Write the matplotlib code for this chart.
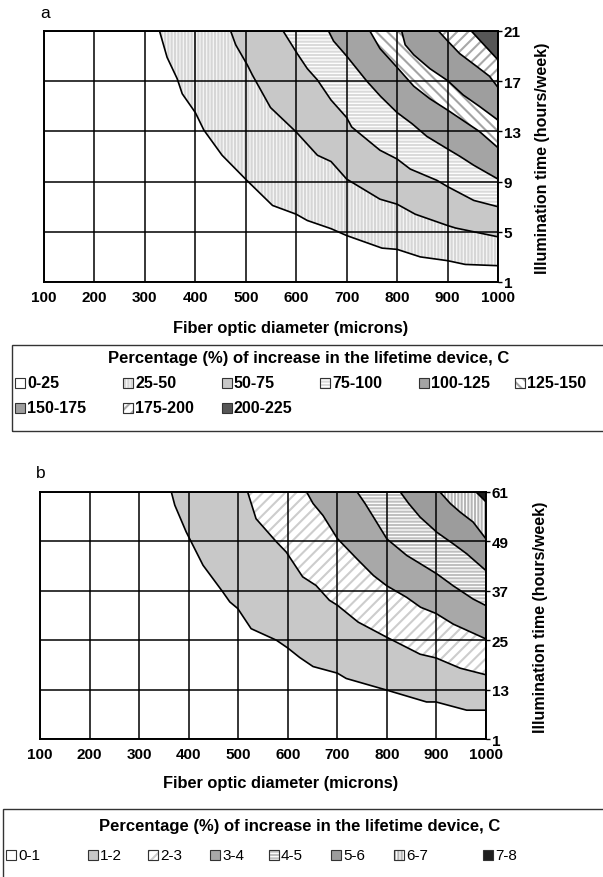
import matplotlib
matplotlib.use("Agg")
import matplotlib.pyplot as plt
from matplotlib.patches import Rectangle

plt.rcParams['font.family'] = ['Liberation Sans', 'DejaVu Sans']
plt.rcParams['hatch.linewidth'] = 1.5

# ====================================
# Data: chart a (C, 0-225 %)
# ====================================
a_xticks = [100, 200, 300, 400, 500, 600, 700, 800, 900, 1000]
a_yticks = [1, 5, 9, 13, 17, 21]

# contour boundaries (diameter, hours/week)
a_b1_x = [329, 344, 364, 374, 400, 417, 453, 502, 553, 600, 622, 669, 700, 770, 800, 846, 900, 935, 1000]
a_b1_y = [21, 18.9, 17.2, 16.0, 14.5, 13.1, 11.1, 9.1, 7.1, 6.4, 5.9, 5.25, 4.7, 3.7, 3.6, 3.0, 2.7, 2.4, 2.3]
a_b2_x = [470, 480, 503, 513, 549, 600, 642, 669, 700, 766, 800, 836, 900, 916, 1000]
a_b2_y = [21, 19.9, 18.3, 17.5, 14.9, 12.95, 11.1, 10.6, 9.2, 7.6, 7.2, 6.4, 5.5, 5.3, 4.6]
a_b3_x = [574, 602, 622, 642, 669, 700, 710, 766, 800, 826, 879, 900, 952, 1000]
a_b3_y = [21, 19.2, 18.0, 17.1, 15.5, 14.1, 13.35, 11.5, 10.8, 10.0, 9.1, 8.6, 7.5, 7.0]
a_b4_x = [664, 674, 700, 740, 767, 800, 830, 859, 900, 925, 952, 1000]
a_b4_y = [21, 20.2, 19.0, 17.0, 15.8, 14.5, 13.6, 12.6, 11.6, 11.0, 10.3, 9.2]
a_b5_x = [746, 766, 800, 833, 865, 900, 937, 963, 1000]
a_b5_y = [21, 19.6, 18.1, 16.6, 15.6, 14.7, 13.7, 13.0, 11.7]
a_b6_x = [809, 816, 833, 865, 900, 931, 963, 1000]
a_b6_y = [21, 19.9, 19.1, 18.0, 17.05, 15.9, 15.0, 13.9]
a_b7_x = [882, 898, 924, 957, 983, 1000]
a_b7_y = [21, 20.3, 19.2, 18.2, 17.4, 16.5]
a_b8_x = [947, 970, 1000]
a_b8_y = [21, 20.0, 18.7]

a_labels = ["0-25", "25-50", "50-75", "75-100", "100-125", "125-150",
            "150-175", "175-200", "200-225"]

# ====================================
# Data: chart b (C, 0-8 %)
# ====================================
b_xticks = [100, 200, 300, 400, 500, 600, 700, 800, 900, 1000]
b_yticks = [1, 13, 25, 37, 49, 61]

b_b1_x = [365, 372, 395, 429, 469, 483, 499, 526, 577, 600, 624, 651, 700, 718, 799, 880, 899, 961, 1000]
b_b1_y = [61, 57.8, 51.3, 43.2, 36.7, 34.3, 32.7, 27.8, 25.0, 23.1, 20.8, 18.6, 17.0, 15.7, 12.9, 10.0, 10.0, 8.0, 8.0]
b_b2_x = [519, 536, 577, 597, 630, 657, 684, 700, 742, 800, 867, 899, 948, 1000]
b_b2_y = [61, 54.5, 48.9, 46.4, 40.4, 38.3, 34.7, 33.5, 29.4, 25.7, 21.6, 20.7, 18.2, 16.6]
b_b3_x = [638, 651, 671, 700, 740, 773, 800, 840, 868, 899, 934, 1000]
b_b3_y = [61, 58.2, 55.3, 49.7, 44.7, 40.7, 38.2, 35.4, 33.0, 31.5, 28.9, 25.3]
b_b4_x = [740, 756, 773, 800, 840, 874, 901, 934, 974, 1000]
b_b4_y = [61, 58.2, 54.9, 49.6, 45.6, 43.1, 41.1, 38.2, 35.0, 33.4]
b_b5_x = [827, 844, 867, 901, 934, 961, 1000]
b_b5_y = [61, 58.2, 54.9, 51.2, 48.4, 46.0, 41.9]
b_b6_x = [907, 928, 948, 974, 1000]
b_b6_y = [61, 58.2, 56.1, 53.7, 49.6]
b_b7_x = [980, 1000]
b_b7_y = [61, 58.6]

b_labels = ["0-1", "1-2", "2-3", "3-4", "4-5", "5-6", "6-7", "7-8"]

# ====================================
# Styles (face, hatch, hatch colour)
# ====================================
a_styles = [
    ("white", None, None),
    ("#f6f6f6", "|||||", "#d6d6d6"),
    ("#c8c8c8", None, None),
    ("white", "-----", "#dadada"),
    ("#a4a4a4", None, None),
    ("white", "\\\\\\", "#a4a4a4"),
    ("#9e9e9e", None, None),
    ("white", "///", "#a8a8a8"),
    ("#565656", None, None),
]
b_styles = [
    ("white", None, None),
    ("#c8c8c8", None, None),
    ("white", "///", "#cdcdcd"),
    ("#a8a8a8", None, None),
    ("white", "-----", "#c0c0c0"),
    ("#9c9c9c", None, None),
    ("white", "|||||", "#b6b6b6"),
    ("#1e1e1e", None, None),
]

W, H = 603, 878
fig = plt.figure(figsize=(W / 100, H / 100), dpi=100)


def px_axes(left, top, right, bottom):
    return [left / W, 1 - bottom / H, (right - left) / W, (bottom - top) / H]


def draw_chart(ax, bounds, styles, xticks, yticks):
    ytop = yticks[-1]
    for (bx, by), (fc, hatch, hc) in zip(bounds, styles[1:]):
        xs = list(bx) + [bx[-1], bx[0]]
        ys = list(by) + [ytop + 100, ytop + 100]
        if hatch:
            ax.fill(xs, ys, facecolor=fc, hatch=hatch, edgecolor=hc, lw=0, zorder=1)
        else:
            ax.fill(xs, ys, facecolor=fc, lw=0, zorder=1)
    for bx, by in bounds:
        ax.plot(bx, by, color="black", lw=1.2, zorder=2)
    ax.set_xlim(xticks[0], xticks[-1])
    ax.set_ylim(yticks[0], yticks[-1])
    ax.set_xticks(xticks)
    ax.set_yticks(yticks)
    ax.yaxis.tick_right()
    ax.grid(True, color="black", lw=1.1)
    ax.set_axisbelow(False)
    ax.tick_params(axis="x", length=0, pad=5.5, labelsize=11)
    ax.tick_params(axis="y", length=3, pad=1, labelsize=11, width=1)
    for lab in ax.get_xticklabels() + ax.get_yticklabels():
        lab.set_fontweight("bold")
    for sp in ax.spines.values():
        sp.set_linewidth(1.4)


def swatch(x, y, style, s=10):
    fc, hatch, hc = style
    r = Rectangle((x / W, 1 - (y + s) / H), s / W, s / H, transform=fig.transFigure,
                  facecolor=fc, hatch=hatch, edgecolor=hc if hatch else "#333333", lw=0.8)
    fig.add_artist(r)
    if hatch:
        fig.add_artist(Rectangle((x / W, 1 - (y + s) / H), s / W, s / H,
                                 transform=fig.transFigure, fill=False,
                                 edgecolor="#333333", lw=0.8))


# ====================================
# Chart a
# ====================================
ax1 = fig.add_axes(px_axes(44, 32, 498, 283))
bounds_a = [(a_b1_x, a_b1_y), (a_b2_x, a_b2_y), (a_b3_x, a_b3_y), (a_b4_x, a_b4_y),
            (a_b5_x, a_b5_y), (a_b6_x, a_b6_y), (a_b7_x, a_b7_y), (a_b8_x, a_b8_y)]
draw_chart(ax1, bounds_a, a_styles, a_xticks, a_yticks)
fig.text(40 / W, 1 - 13 / H, "a", fontsize=12.5, va="center", ha="left")
fig.text(543 / W, 1 - 158 / H, "Illumination time (hours/week)", rotation=90,
         fontsize=11.5, fontweight="bold", ha="center", va="center")
fig.text(291 / W, 1 - 328 / H, "Fiber optic diameter (microns)",
         fontsize=11.8, fontweight="bold", ha="center", va="center")

# legend a
fig.add_artist(Rectangle((12 / W, 1 - 432 / H), 620 / W, 86 / H, transform=fig.transFigure,
                         fill=False, edgecolor="#333333", lw=1))
fig.text(309 / W, 1 - 359 / H, "Percentage (%) of increase in the lifetime device, C",
         fontsize=12, fontweight="bold", ha="center", va="center")
a_leg_x = [15, 123, 222, 320, 419, 515, 15, 123, 222]
a_leg_y = [384, 384, 384, 384, 384, 384, 409, 409, 409]
for lab, st, lx, ly in zip(a_labels, a_styles, a_leg_x, a_leg_y):
    swatch(lx, ly - 5, st)
    fig.text((lx + 12) / W, 1 - ly / H, lab, fontsize=11.5, fontweight="bold",
             ha="left", va="center")

# ====================================
# Chart b
# ====================================
ax2 = fig.add_axes(px_axes(40, 493, 486, 740))
bounds_b = [(b_b1_x, b_b1_y), (b_b2_x, b_b2_y), (b_b3_x, b_b3_y), (b_b4_x, b_b4_y),
            (b_b5_x, b_b5_y), (b_b6_x, b_b6_y), (b_b7_x, b_b7_y)]
draw_chart(ax2, bounds_b, b_styles, b_xticks, b_yticks)
fig.text(36 / W, 1 - 474 / H, "b", fontsize=12.5, va="center", ha="left")
fig.text(540 / W, 1 - 617 / H, "Illumination time (hours/week)", rotation=90,
         fontsize=11.5, fontweight="bold", ha="center", va="center")
fig.text(281 / W, 1 - 784 / H, "Fiber optic diameter (microns)",
         fontsize=11.8, fontweight="bold", ha="center", va="center")

# legend b
fig.add_artist(Rectangle((3 / W, 1 - 890 / H), 630 / W, 80 / H, transform=fig.transFigure,
                         fill=False, edgecolor="#333333", lw=1))
fig.text(300 / W, 1 - 827 / H, "Percentage (%) of increase in the lifetime device, C",
         fontsize=12, fontweight="bold", ha="center", va="center")
b_leg_x = [6, 88, 148, 210, 269, 331, 394, 483]
for lab, st, lx in zip(b_labels, b_styles, b_leg_x):
    swatch(lx, 856 - 5, st)
    fig.text((lx + 12) / W, 1 - 856 / H, lab, fontsize=11, ha="left", va="center")

fig.savefig("out.png", dpi=100)
